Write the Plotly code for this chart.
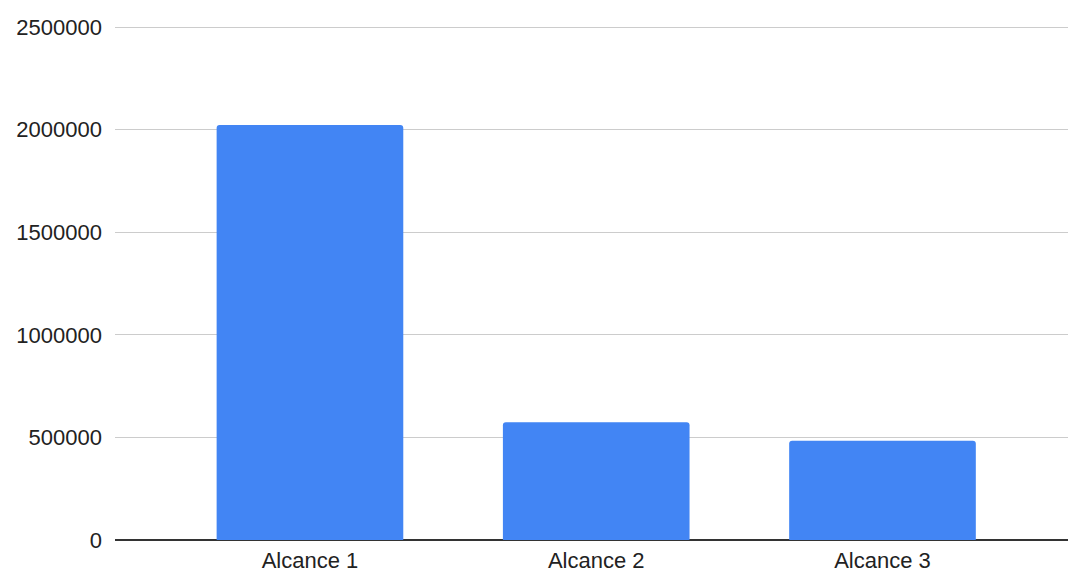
import plotly.graph_objects as go

categories = ["Alcance 1", "Alcance 2", "Alcance 3"]
values = [2022000, 574000, 484000]
y_ticks = [0, 500000, 1000000, 1500000, 2000000, 2500000]
y_tick_labels = ["0", "500000", "1000000", "1500000", "2000000", "2500000"]

fig = go.Figure(
    go.Bar(
        x=categories,
        y=values,
        width=0.652,
        marker=dict(color="#4285F4", line=dict(width=0), cornerradius=3),
    )
)

fig.update_layout(
    width=1068,
    height=572,
    margin=dict(l=115, r=0, t=26, b=32),
    paper_bgcolor="white",
    plot_bgcolor="white",
    showlegend=False,
    font=dict(family="Liberation Sans, Arial, sans-serif", size=22, color="#222222"),
    bargap=0.35,
)
fig.update_xaxes(
    type="category",
    range=[-0.681, 2.648],
    showgrid=False,
    showline=False,
    zeroline=False,
    ticks="",
    automargin=False,
    ticklabelstandoff=5,
)
fig.update_yaxes(
    range=[0, 2505000],
    tickvals=y_ticks,
    ticktext=y_tick_labels,
    showgrid=True,
    gridcolor="#cccccc",
    gridwidth=1,
    zeroline=True,
    zerolinecolor="#333333",
    zerolinewidth=1.5,
    showline=False,
    ticks="",
    automargin=False,
    ticklabelstandoff=12,
)

fig.write_html("out.html")
